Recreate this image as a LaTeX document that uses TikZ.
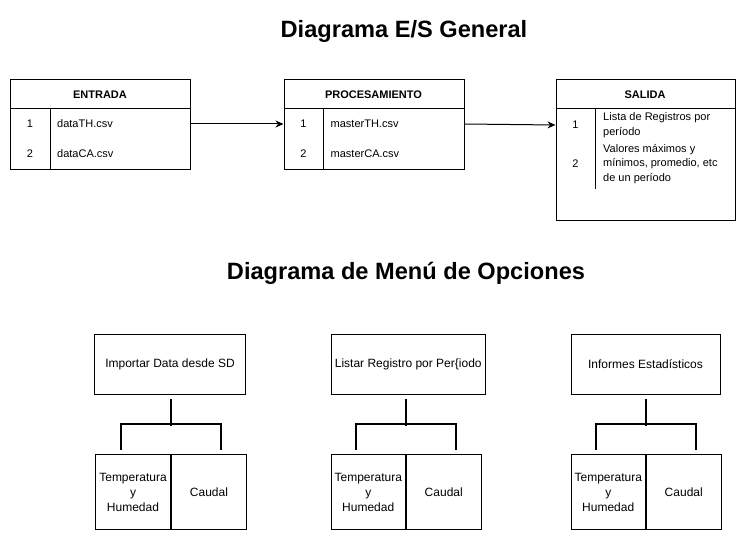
\documentclass[tikz,border=0pt]{standalone}
\usepackage{fontspec}
\setmainfont{Liberation Sans}
\usetikzlibrary{arrows.meta, positioning}

\tikzset{
  tbl/.style={draw, line width=1pt, anchor=north west, inner sep=0pt},
  hdr/.style={font=\fontsize{11}{13}\selectfont\bfseries},
  num/.style={font=\fontsize{11}{13}\selectfont},
  item/.style={font=\fontsize{11}{14.5}\selectfont, anchor=west, align=left, inner sep=0pt},
  title/.style={font=\fontsize{23.6}{28}\selectfont\bfseries},
  menubox/.style={draw, line width=1pt, minimum height=60pt, font=\fontsize{12}{15}\selectfont, inner sep=0pt},
  subbox/.style={draw, line width=1pt, minimum width=75pt, minimum height=75pt, font=\fontsize{12}{15}\selectfont, align=center, inner sep=0pt},
  bracket/.style={line width=2pt, line cap=rect},
  flow/.style={-{Stealth[length=8pt,width=7pt]}, line width=1pt}
}

\begin{document}
\begin{tikzpicture}[x=1pt, y=-1pt]
  \useasboundingbox (0,0) rectangle (746,540);
  % Titles
  \node[title] (titleio) at (404,31) {Diagrama E/S General};
  \node[title] (titlemenu) at (406,273) {Diagrama de Menú de Opciones};

  % Entrada
  \node[tbl, minimum width=180pt, minimum height=90pt] (entrada) at (10,79.5) {};
  \node[hdr] (entradahd) at (100,94.5) {ENTRADA};
  \draw[line width=1pt] (10,109) -- (190,109);
  \draw[line width=1pt] (50,109) -- (50,169.5);
  \node[num] (eone) at (30,124) {1};
  \node[item] (ethf) at (57,124) {dataTH.csv};
  \node[num] (etwo) at (30,154) {2};
  \node[item] (ecaf) at (57,154) {dataCA.csv};

  % Procesamiento
  \node[tbl, minimum width=180pt, minimum height=90pt] (proc) at (283.5,79.5) {};
  \node[hdr] (prochd) at (373.5,94.5) {PROCESAMIENTO};
  \draw[line width=1pt] (283.5,109) -- (463.5,109);
  \draw[line width=1pt] (323.5,109) -- (323.5,169.5);
  \node[num] (pone) at (303.5,124) {1};
  \node[item] (pthf) at (330.5,124) {masterTH.csv};
  \node[num] (ptwo) at (303.5,154) {2};
  \node[item] (pcaf) at (330.5,154) {masterCA.csv};

  % Salida
  \node[tbl, minimum width=179pt, minimum height=140pt] (salida) at (555.5,79.5) {};
  \node[hdr] (salidahd) at (645,94.5) {SALIDA};
  \draw[line width=1pt] (555.5,109) -- (734.5,109);
  \draw[line width=1pt] (595.5,109) -- (595.5,189);
  \node[num] (sone) at (575.5,125) {1};
  \node[item] (slist) at (603,125) {Lista de Registros por\\período};
  \node[num] (stwo) at (575.5,164) {2};
  \node[item] (sstat) at (603,164) {Valores máximos y\\mínimos, promedio, etc\\de un período};

  % Arrows
  \draw[flow] (entrada.east |- eone) -- (proc.west |- pone);
  \draw[flow] (proc.east |- pone) -- (salida.west |- sone);

  % Menu: Importar
  \node[menubox, minimum width=151pt] (imp) at (170,364.5) {Importar Data desde SD};
  \node[subbox] (impth) at (133,492) {Temperatura\\y\\Humedad};
  \node[subbox, right=0pt of impth] (impca) {Caudal};
  \draw[bracket] ([yshift=-5pt]impth.east |- imp.south) -- ++(0,-25pt);
  \draw[bracket] ([xshift=-50pt,yshift=5pt]impth.north east) -- ++(0,25pt) -| ([xshift=50pt,yshift=5pt]impth.north east);

  % Menu: Listar
  \node[menubox, minimum width=154.5pt] (lst) at (408.25,364.5) {Listar Registro por Per\{iodo};
  \node[subbox, minimum width=74.5pt] (lstth) at (368.25,492) {Temperatura\\y\\Humedad};
  \node[subbox, minimum width=74.5pt, right=0pt of lstth] (lstca) {Caudal};
  \draw[bracket] ([yshift=-5pt]lstth.east |- lst.south) -- ++(0,-25pt);
  \draw[bracket] ([xshift=-50pt,yshift=5pt]lstth.north east) -- ++(0,25pt) -| ([xshift=50pt,yshift=5pt]lstth.north east);

  % Menu: Informes
  \node[menubox, minimum width=149pt] (inf) at (645.5,364.5) {Informes Estadísticos};
  \node[subbox, minimum width=74.5pt] (infth) at (608.25,492) {Temperatura\\y\\Humedad};
  \node[subbox, minimum width=74.5pt, right=0pt of infth] (infca) {Caudal};
  \draw[bracket] ([yshift=-5pt]infth.east |- inf.south) -- ++(0,-25pt);
  \draw[bracket] ([xshift=-50pt,yshift=5pt]infth.north east) -- ++(0,25pt) -| ([xshift=50pt,yshift=5pt]infth.north east);
\end{tikzpicture}
\end{document}
